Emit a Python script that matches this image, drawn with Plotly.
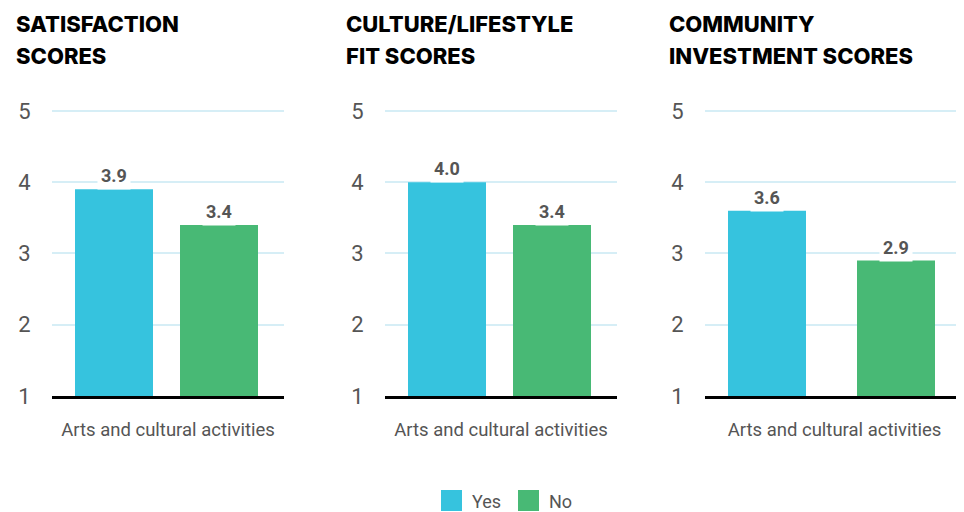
import plotly.graph_objects as go

# data
category = "Arts and cultural activities"
panel_titles = [
    ["SATISFACTION", "SCORES"],
    ["CULTURE/LIFESTYLE", "FIT SCORES"],
    ["COMMUNITY", "INVESTMENT SCORES"],
]
series_names = ["Yes", "No"]
yes_scores = [3.9, 4.0, 3.6]
no_scores = [3.4, 3.4, 2.9]
y_ticks = [1, 2, 3, 4, 5]

YES_COLOR = "#36C3DE"
NO_COLOR = "#48B975"
GRID_COLOR = "#D6EEF6"
TEXT_GRAY = "#555555"
FONT = "Roboto"
TITLE_FONT = "Inter"

# page body has an 8px margin, so the figure sits at (8, 8) in the window
OFF = 8
W, H = 964 - OFF, 512 - OFF


def px_x(p):
    return (p - OFF) / W


def px_y(p):
    return 1 - (p - OFF) / H


# pixel layout of each panel (window coords)
panel_px = [(52, 284), (385, 617), (705, 964)]
no_bar_left = [180, 513, 857]
title_px = [15, 345, 668]
plot_top, plot_bottom = 107.4, 396
y_range = [1, 5.05]

fig = go.Figure()
for i in range(3):
    left, right = panel_px[i]
    pw = right - left
    bar_w = 78 / pw
    yes_off = 23 / pw - 0.5
    no_off = (no_bar_left[i] - left) / pw - 0.5
    xa = "x" if i == 0 else f"x{i + 1}"
    ya = "y" if i == 0 else f"y{i + 1}"

    for name, vals, color, off in [("Yes", yes_scores, YES_COLOR, yes_off),
                                   ("No", no_scores, NO_COLOR, no_off)]:
        fig.add_trace(go.Bar(
            x=[category], y=[vals[i]], name=name,
            marker=dict(color=color, line=dict(width=0)),
            width=bar_w, offset=off,
            xaxis=xa, yaxis=ya,
            showlegend=False,
            hoverinfo="skip",
        ))
        fig.add_annotation(
            x=off + bar_w / 2, y=vals[i], xref=xa, yref=ya,
            text=f"<b>{vals[i]:.1f}</b>", showarrow=False,
            yanchor="bottom", yshift=-1, bgcolor="white", borderpad=3,
            font=dict(family=FONT, size=18, color=TEXT_GRAY),
        )

    axis_x = dict(
        domain=[px_x(left), min(px_x(right), 1)], type="category", range=[-0.5, 0.5],
        showgrid=False, showline=True, linecolor="black", linewidth=2.5,
        ticks="outside", ticklen=15, tickcolor="rgba(0,0,0,0)",
        tickfont=dict(family=FONT, size=18.5, color=TEXT_GRAY),
        anchor=ya, fixedrange=True,
    )
    axis_y = dict(
        domain=[px_y(plot_bottom), px_y(plot_top)], range=y_range, tickvals=y_ticks,
        showgrid=True, gridcolor=GRID_COLOR, gridwidth=2,
        zeroline=False, showline=False,
        ticks="outside", ticklen=16, tickcolor="rgba(0,0,0,0)",
        tickfont=dict(family=FONT, size=22, color=TEXT_GRAY),
        anchor=xa, fixedrange=True,
    )
    fig.update_layout(**{
        ("xaxis" if i == 0 else f"xaxis{i + 1}"): axis_x,
        ("yaxis" if i == 0 else f"yaxis{i + 1}"): axis_y,
    })

    for j, line in enumerate(panel_titles[i]):
        fig.add_annotation(
            x=px_x(title_px[i]), y=px_y(10 + 32 * j),
            xref="paper", yref="paper", xanchor="left", yanchor="top",
            text=line, showarrow=False, borderpad=0,
            font=dict(family=TITLE_FONT, size=22, color="black", weight=800),
        )

# legend drawn as swatches + labels
legend_swatch_x = [441, 518]
legend_text_x = [470, 547]
for name, color, sx, tx in zip(series_names, [YES_COLOR, NO_COLOR],
                               legend_swatch_x, legend_text_x):
    fig.add_shape(
        type="rect", xref="paper", yref="paper",
        x0=px_x(sx), x1=px_x(sx + 21), y0=px_y(511), y1=px_y(490),
        fillcolor=color, line=dict(width=0),
    )
    fig.add_annotation(
        x=px_x(tx), y=px_y(501), xref="paper", yref="paper",
        xanchor="left", yanchor="middle", text=name, showarrow=False,
        font=dict(family=FONT, size=18, color=TEXT_GRAY),
    )

fig.update_layout(
    width=W, height=H,
    margin=dict(l=0, r=0, t=0, b=0, autoexpand=False),
    paper_bgcolor="white", plot_bgcolor="white",
    barmode="overlay",
    showlegend=False,
)

fig.write_html("out.html")
